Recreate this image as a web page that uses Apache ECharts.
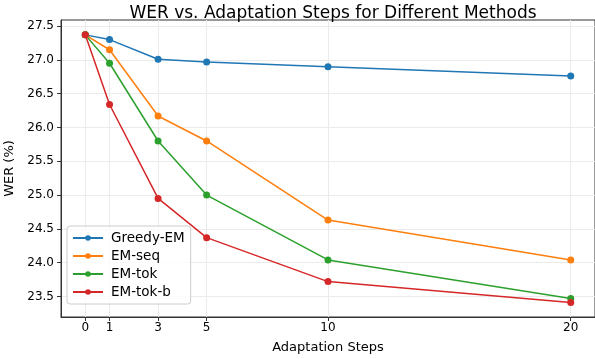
<!DOCTYPE html>
<html>
<head>
<meta charset="utf-8">
<script src="https://cdn.jsdelivr.net/npm/echarts@6/dist/echarts.min.js"></script>
<style>
html, body { margin: 0; padding: 0; background: #fff; }
#chart { width: 595px; height: 359px; }
</style>
</head>
<body>
<div id="chart"></div>
<script>
// adaptation steps on x
var steps = [0, 1, 3, 5, 10, 20];
var yTicks = [23.5, 24.0, 24.5, 25.0, 25.5, 26.0, 26.5, 27.0, 27.5];

// WER values
var greedyEM = [27.37, 27.30, 27.01, 26.97, 26.90, 26.76];
var emSeq    = [27.37, 27.15, 26.17, 25.80, 24.63, 24.04];
var emTok    = [27.37, 26.95, 25.80, 25.00, 24.04, 23.47];
var emTokB   = [27.37, 26.34, 24.95, 24.37, 23.72, 23.41];

var seriesNames = ['Greedy-EM', 'EM-seq', 'EM-tok', 'EM-tok-b'];
var seriesData = [greedyEM, emSeq, emTok, emTokB];
var colors = ['#1f77b4', '#ff7f0e', '#2ca02c', '#d62728'];

var font = 'DejaVu Sans';
var gridColor = '#ebebeb';

var makeSeries = function(name, values, color){
	return {
		name: name,
		type: 'line',
		data: steps.map(function(s, i){ return [s, values[i]]; }),
		symbol: 'circle',
		symbolSize: 7,
		lineStyle: { color: color, width: 1.5 },
		itemStyle: { color: color },
		z: 3,
		animation: false
	};
};

var series = [];
for (var i = 0; i < seriesNames.length; i++){
	series.push(makeSeries(seriesNames[i], seriesData[i], colors[i]));
}

// vertical grid lines only at the step positions
series.push({
	name: 'vgrid',
	type: 'line',
	data: [],
	z: 0,
	silent: true,
	markLine: {
		z: 0,
		symbol: 'none',
		silent: true,
		animation: false,
		label: { show: false },
		emphasis: { disabled: true },
		lineStyle: { color: gridColor, width: 1, type: 'solid' },
		data: steps.map(function(s){ return { xAxis: s }; })
	}
});

var chart = echarts.init(document.getElementById('chart'), null, { renderer: 'canvas' });

chart.setOption({
	backgroundColor: '#fff',
	animation: false,
	color: colors,
	title: {
		text: 'WER vs. Adaptation Steps for Different Methods',
		left: 328,
		textAlign: 'center',
		top: 0,
		textStyle: { fontFamily: font, fontSize: 17, fontWeight: 'normal', color: '#000' }
	},
	grid: {
		left: 61, right: 0, top: 20, bottom: 42,
		outerBoundsMode: 'none',
		containLabel: false,
		show: true, borderColor: '#333', borderWidth: 1
	},
	legend: {
		orient: 'vertical',
		left: 67, top: 226,
		padding: [5, 6, 5, 5],
		itemGap: 4,
		itemWidth: 30, itemHeight: 7,
		backgroundColor: 'rgba(255,255,255,0.8)',
		borderColor: '#ccc', borderWidth: 1, borderRadius: 3,
		textStyle: { fontFamily: font, fontSize: 13.5, color: '#000', padding: [0, 0, 0, 3] },
		data: seriesNames
	},
	xAxis: {
		type: 'value',
		min: -1, max: 21,
		name: 'Adaptation Steps',
		nameLocation: 'middle',
		nameGap: 24,
		nameTextStyle: { fontFamily: font, fontSize: 13, color: '#000' },
		axisLine: { show: true, onZero: false, lineStyle: { color: '#333' } },
		axisTick: { show: true, customValues: steps, length: 4, lineStyle: { color: '#333' } },
		axisLabel: { customValues: steps, fontFamily: font, fontSize: 12, color: '#000', margin: 5 },
		splitLine: { show: false }
	},
	yAxis: {
		type: 'value',
		min: 23.196, max: 27.59,
		name: 'WER (%)',
		nameLocation: 'middle',
		nameGap: 41,
		nameTextStyle: { fontFamily: font, fontSize: 13, color: '#000' },
		axisLine: { show: true, onZero: false, lineStyle: { color: '#333' } },
		axisTick: { show: true, customValues: yTicks, length: 4, lineStyle: { color: '#333' } },
		axisLabel: {
			customValues: yTicks, fontFamily: font, fontSize: 12, color: '#000', margin: 7,
			formatter: function(v){ return v.toFixed(1); }
		},
		splitLine: { show: true, lineStyle: { color: gridColor, width: 1 } }
	},
	series: series
});
</script>
</body>
</html>
